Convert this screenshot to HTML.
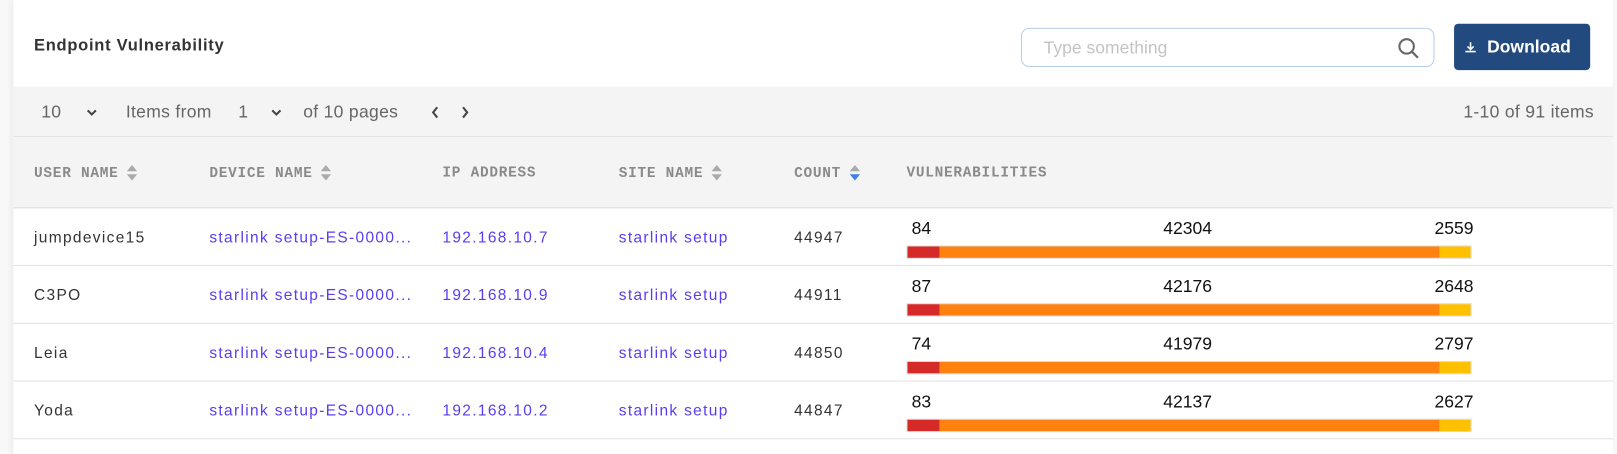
<!DOCTYPE html>
<html><head><meta charset="utf-8"><style>
*{margin:0;padding:0;box-sizing:border-box}
body{width:1617px;height:447px;overflow:hidden;background:#f8f8f8;font-family:"Liberation Sans",sans-serif;position:relative}
.wrap{position:absolute;left:0;top:0;width:1568px;height:434px;transform:scale(1.03125);transform-origin:0 0}
.card{position:absolute;left:13px;top:0;width:1551px;height:440px;background:#fff;box-shadow:-2px 0 6px rgba(0,0,0,0.06)}
.a{position:absolute;white-space:nowrap}
.title{left:20px;top:36px;font-size:16px;font-weight:bold;color:#333;letter-spacing:0.7px}
.search{left:977px;top:27px;width:401px;height:38px;border:1px solid #b9cfe6;border-radius:8px}
.search span{position:absolute;left:21px;top:9px;font-size:17px;color:#c4c4c4}
.btn{left:1397px;top:23px;width:132px;height:45px;background:#234a7e;border-radius:4px;color:#fff;font-weight:bold;font-size:17px}
.toolbar{left:0;top:84px;width:1551px;height:49px;background:#f4f4f4;border-bottom:1px solid #e2e2e2}
.tb{font-size:17px;color:#666;top:15px;letter-spacing:0.3px}
.ch{position:absolute;top:21px}
.thead{left:0;top:133px;width:1551px;height:69px;background:#f4f4f4;border-bottom:1px solid #ddd}
.th{top:27px;font-family:"Liberation Mono",monospace;font-weight:bold;font-size:14px;color:#8a8a8a;letter-spacing:0.7px}
.sort{display:inline-block;vertical-align:middle;margin-left:8px;width:10px;height:16px;position:relative}
.sort:before{content:"";position:absolute;left:0;top:0;border-left:5px solid transparent;border-right:5px solid transparent;border-bottom:6px solid #aaa}
.sort:after{content:"";position:absolute;left:0;top:9px;border-left:5px solid transparent;border-right:5px solid transparent;border-top:6px solid #aaa}
.sort.d:after{border-top-color:#3d7ef0}
.row{left:0;width:1551px;height:56px;border-bottom:1px solid #e2e2e2}
.c{top:20px;font-size:15px;letter-spacing:1.3px;color:#333}
.l{color:#5a3cf0}
.n{top:10px;font-size:17px;color:#111}
.bar{left:866px;top:36px;width:548px;height:13px;display:flex;border:1px solid #ddd}
</style></head><body>
<div class="wrap">
<div class="card">
<div class="a title">Endpoint Vulnerability</div>
<div class="a search"><span>Type something</span>
<svg style="position:absolute;left:364px;top:8px" width="22" height="22" viewBox="0 0 22 22"><circle cx="9" cy="9" r="7" fill="none" stroke="#666" stroke-width="2"/><line x1="14" y1="14" x2="20" y2="20" stroke="#666" stroke-width="2.2"/></svg></div>
<div class="a btn"><svg style="position:absolute;left:10px;top:17px" width="12" height="12" viewBox="0 0 12 12"><path d="M6 1v7M3 5l3 3 3-3M1 10h10" stroke="#fff" stroke-width="1.5" fill="none"/></svg><span style="position:absolute;left:32px;top:13px">Download</span></div>
<div class="a toolbar">
<span class="a tb" style="left:27px">10</span>
<svg class="ch" style="left:70px" width="12" height="8" viewBox="0 0 12 8"><path d="M2 2l4 4 4-4" stroke="#444" stroke-width="2" fill="none"/></svg>
<span class="a tb" style="left:109px">Items from</span>
<span class="a tb" style="left:218px">1</span>
<svg class="ch" style="left:249px" width="12" height="8" viewBox="0 0 12 8"><path d="M2 2l4 4 4-4" stroke="#444" stroke-width="2" fill="none"/></svg>
<span class="a tb" style="left:281px">of 10 pages</span>
<svg class="ch" style="left:404px;top:18px" width="10" height="14" viewBox="0 0 10 14"><path d="M7 2L3 7l4 5" stroke="#444" stroke-width="2" fill="none"/></svg>
<svg class="ch" style="left:433px;top:18px" width="10" height="14" viewBox="0 0 10 14"><path d="M3 2l4 5-4 5" stroke="#444" stroke-width="2" fill="none"/></svg>
<span class="a tb" style="left:1406px">1-10 of 91 items</span>
</div>
<div class="a thead">
<span class="a th" style="left:20px">USER NAME<i class="sort"></i></span>
<span class="a th" style="left:190px">DEVICE NAME<i class="sort"></i></span>
<span class="a th" style="left:416px">IP ADDRESS</span>
<span class="a th" style="left:587px">SITE NAME<i class="sort"></i></span>
<span class="a th" style="left:757px">COUNT<i class="sort d"></i></span>
<span class="a th" style="left:866px">VULNERABILITIES</span>
</div>
<div class="a row" style="top:202px">
<span class="a c" style="left:20px">jumpdevice15</span><span class="a c l" style="left:190px">starlink setup-ES-0000...</span><span class="a c l" style="left:416px">192.168.10.7</span><span class="a c l" style="left:587px">starlink setup</span><span class="a c" style="left:757px">44947</span>
<span class="a n" style="left:871px">84</span><span class="a n" style="left:1115px">42304</span><span class="a n" style="left:1378px">2559</span>
<div class="a bar"><div style="width:31px;background:#d62a28"></div><div style="width:485px;background:#ff8210"></div><div style="flex:1;background:#ffc000"></div></div></div>
<div class="a row" style="top:258px">
<span class="a c" style="left:20px">C3PO</span><span class="a c l" style="left:190px">starlink setup-ES-0000...</span><span class="a c l" style="left:416px">192.168.10.9</span><span class="a c l" style="left:587px">starlink setup</span><span class="a c" style="left:757px">44911</span>
<span class="a n" style="left:871px">87</span><span class="a n" style="left:1115px">42176</span><span class="a n" style="left:1378px">2648</span>
<div class="a bar"><div style="width:31px;background:#d62a28"></div><div style="width:485px;background:#ff8210"></div><div style="flex:1;background:#ffc000"></div></div></div>
<div class="a row" style="top:314px">
<span class="a c" style="left:20px">Leia</span><span class="a c l" style="left:190px">starlink setup-ES-0000...</span><span class="a c l" style="left:416px">192.168.10.4</span><span class="a c l" style="left:587px">starlink setup</span><span class="a c" style="left:757px">44850</span>
<span class="a n" style="left:871px">74</span><span class="a n" style="left:1115px">41979</span><span class="a n" style="left:1378px">2797</span>
<div class="a bar"><div style="width:31px;background:#d62a28"></div><div style="width:485px;background:#ff8210"></div><div style="flex:1;background:#ffc000"></div></div></div>
<div class="a row" style="top:370px">
<span class="a c" style="left:20px">Yoda</span><span class="a c l" style="left:190px">starlink setup-ES-0000...</span><span class="a c l" style="left:416px">192.168.10.2</span><span class="a c l" style="left:587px">starlink setup</span><span class="a c" style="left:757px">44847</span>
<span class="a n" style="left:871px">83</span><span class="a n" style="left:1115px">42137</span><span class="a n" style="left:1378px">2627</span>
<div class="a bar"><div style="width:31px;background:#d62a28"></div><div style="width:485px;background:#ff8210"></div><div style="flex:1;background:#ffc000"></div></div></div>
</div>
</div>
</body></html>
